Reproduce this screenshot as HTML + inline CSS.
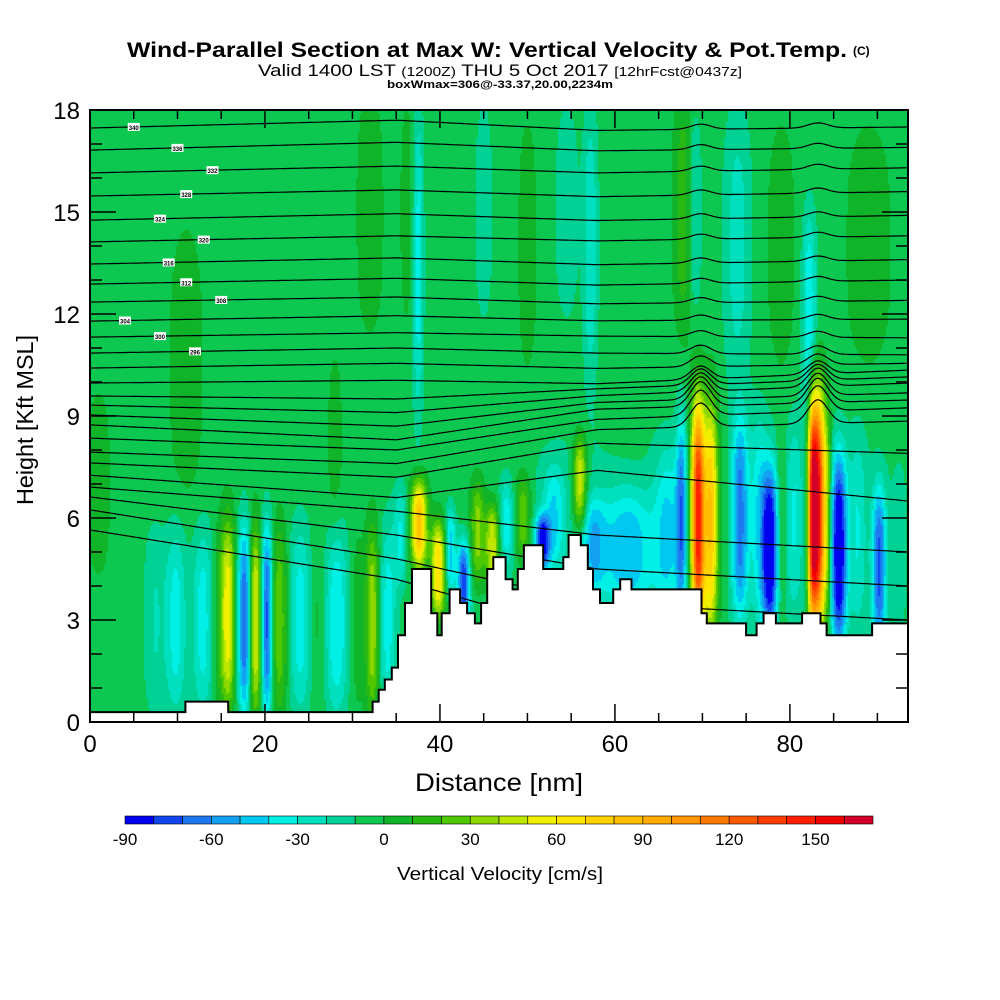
<!DOCTYPE html>
<html><head><meta charset="utf-8"><style>
body{margin:0;background:#fff;width:1000px;height:1000px;position:relative;overflow:hidden;font-family:"Liberation Sans",sans-serif}
#plot{position:absolute;left:90px;top:110px}
svg{position:absolute;left:0;top:0}
</style></head><body>
<canvas id="plot" width="818" height="612"></canvas>
<svg id="svg" width="1000" height="1000"></svg>
<script>
// ---- data ----
const xMax=93.5, yMax=18;
const velBinsStart=-90, velBinStep=10;
const velColors=["#0000f0","#0f46f0","#1e78f0","#14a0f0","#00c8f0","#00f0e6","#00e0be","#00d296","#0cc850","#10b428","#28b814","#50c800","#8cd800","#bee600","#f0f000","#ffe600","#ffd200","#ffbe00","#ffaa00","#ff9600","#ff7800","#ff5a00","#ff3c00","#ff1e00","#f00000","#d20028"];
const colorbarLabels=[-90,-60,-30,0,30,60,90,120,150];
const baseW=-5;
// features: [x nm, sigmaX nm, zCenter kft, zHalf kft, amplitude cm/s]
const featX=[7.4,9.8,12.9,14.8,15.8,17.7,18.9,20.2,21.6,24,26,28.2,30.5,32.3,34,
35.5,37.6,39.8,41.2,42.7,44.3,46,47.6,49.5,51.7,53,56,57.5,61.5,
66,67.6,69.5,71,72.5,74.3,76.5,77.7,79,80.5,82.5,83.2,84.3,85.6,87.8,90.2,92.5,
37.5,36.3,45,50,54.5,57.2,68,69,74,82.2,79,89,11,32,28,1,
55,77];
const featSX=[1.2,1.2,1.2,0.8,0.8,0.8,0.8,0.7,1.0,1.3,0.8,1.3,0.8,0.8,1.0,
0.8,0.9,0.8,0.6,0.7,0.8,0.8,0.8,0.9,0.8,1.2,0.8,1.5,3,
1.5,0.6,0.8,0.8,0.8,0.9,0.9,0.9,0.6,0.8,0.5,0.8,0.5,0.9,0.9,0.8,0.8,
0.6,0.9,0.9,1.2,1.2,0.8,1.2,0.8,1.5,0.8,1.8,3,2.2,1.8,0.9,1.5,
6,12];
const featZ=[3,3,3,3,3.2,3,3,3,3,3,3,3,3,3,3,
5.5,5.8,4.5,5,4,5.6,5.2,5.8,6,5.3,6,7,5.2,5,
5.5,6,6,6,6,6,6,5,6,6,6.2,6.2,6,5,5.5,4.5,5,
13.5,15,15,14,15,14,15,15,14,12,14,14,10.5,15,8,7,
6,6];
const featZH=[2.8,2.8,2.8,2.8,2.8,2.8,2.8,2.8,2.8,2.8,2.8,2.8,2.8,2.8,2.8,
1.5,1.3,1.4,1.3,1.3,1.5,1.2,1.3,1.3,0.8,1.5,1.4,1.4,1.8,
2.5,3,3.4,3.4,3,3,3,2.4,3,2.8,3.4,3.5,3,2.8,3,2.4,2.5,
4.5,3.5,3,4,3,4,3.5,3,4,3,4,4,4.5,4,3,3,
2.8,3.2];
const featA=[-15,-30,-30,15,60,-70,65,-75,35,-30,10,-35,10,45,-30,
-25,90,75,-40,-75,40,55,-30,35,-75,-30,60,-35,-40,
-30,-50,160,90,10,-50,-20,-85,20,-15,100,165,40,-90,-20,-65,-10,
-30,10,-15,10,-15,-25,25,-25,-20,-35,10,10,10,10,10,10,
-8,-12];
// terrain steps: start distance (nm) and height (kft)
const terrX=[0,10.9,15.8,32.3,33.0,33.7,34.5,35.2,36.0,36.8,39.0,39.7,40.2,41.1,42.3,43.1,44.0,44.7,45.4,46.1,47.5,48.3,48.9,49.6,51.8,54.1,54.7,56.1,56.9,57.5,58.3,59.8,60.6,61.9,69.9,70.5,75.0,76.2,77.0,78.4,81.4,83.5,84.2,89.4];
const terrH=[0.29,0.6,0.29,0.6,0.95,1.25,1.6,2.55,3.5,4.5,3.2,2.55,3.2,3.9,3.5,3.2,2.9,3.5,4.5,4.85,4.2,3.9,4.5,5.2,4.5,4.85,5.5,5.2,4.5,3.9,3.5,3.9,4.2,3.9,3.2,2.9,2.55,2.9,3.2,2.9,3.2,2.9,2.55,2.9];
// potential temperature contours: heights (kft) at 0, 35, 58, 93.5 nm
const thetaNodesX=[0,35,58,93.5];
const thetaLeft=[17.47,16.82,16.15,15.47,14.76,14.12,13.47,12.88,12.35,11.79,11.32,10.85,10.41,9.97,9.59,9.32,9.03,8.74,8.35,7.94,7.62,7.26,6.91,6.62,6.24,5.65];
const thetaAt35=[17.7,17.05,16.35,15.65,14.95,14.3,13.65,13.05,12.5,11.95,11.45,11.0,10.55,10.05,9.5,9.1,8.7,8.3,8.0,7.6,7.2,6.6,6.2,5.5,4.8,4.2];
const thetaMid=[17.4,16.8,16.15,15.45,14.75,14.15,13.45,12.85,12.3,11.8,11.35,10.85,10.4,9.95,9.8,9.6,9.4,9.2,8.9,8.6,8.2,7.4,5.5,4.5,3.5,2.5];
const thetaRight=[17.5,16.9,16.3,15.6,14.9,14.3,13.6,13.0,12.4,11.85,11.3,10.8,10.55,10.35,10.15,9.97,9.68,9.47,9.24,8.85,7.9,6.5,5,4,3,2];
const bumpCenters=[69.8,83.2];
const thetaLabels=["340","336","332","328","324","320","316","312","308","304","300","296"];
const xTicks=[0,20,40,60,80], yTicks=[0,3,6,9,12,15,18];

// ---- scales ----
const L=90,T=110,W=818,H=612;
const sx=x=>L+x/xMax*W, sy=z=>T+H-z/yMax*H;
function wAt(x,z){let w=baseW;for(let i=0;i<featX.length;i++){const dx=(x-featX[i])/featSX[i];if(dx*dx>12)continue;const dz=(z-featZ[i])/featZH[i];w+=featA[i]*Math.exp(-dx*dx)*Math.exp(-Math.pow(dz*dz,1.5));}return w;}
function colorFor(w){let b=Math.floor((w-velBinsStart)/velBinStep);b=Math.max(0,Math.min(velColors.length-1,b));return velColors[b];}
const ctx=document.getElementById('plot').getContext('2d');
for(let px=0;px<W;px+=2)for(let py=0;py<H;py+=2){const x=(px+1)/W*xMax,z=(H-py-1)/H*yMax;ctx.fillStyle=colorFor(wAt(x,z));ctx.fillRect(px,py,2,2);}

const NS="http://www.w3.org/2000/svg",svg=document.getElementById('svg');
function mk(t,a,p){const e=document.createElementNS(NS,t);for(const k in a)e.setAttribute(k,a[k]);(p||svg).appendChild(e);return e;}
// theta contours
const gC=mk('g',{});


function interp(xs,ys,x){for(let i=0;i<xs.length-1;i++){if(x<=xs[i+1]){const t=(x-xs[i])/(xs[i+1]-xs[i]);return ys[i]+(ys[i+1]-ys[i])*t;}}return ys[ys.length-1];}
for(let k=0;k<thetaLeft.length;k++){
  const ys=[thetaLeft[k],thetaAt35[k],thetaMid[k],thetaRight[k]];
  const hr=thetaRight[k];const amp=hr>8.5?(0.6*Math.exp(-Math.pow((hr-9.2)/1.2,2))+0.15):0;
  let d="";
  for(let x=0;x<=xMax+0.01;x+=0.25){let h=interp(thetaNodesX,ys,x);for(const c of bumpCenters){const u=(x-c)/1.6;h+=amp*Math.exp(-u*u);}d+=(x?"L":"M")+sx(x).toFixed(1)+","+sy(h).toFixed(1);}
  const p=mk('path',{d:d,fill:'none',stroke:'#000','stroke-width':1.2},gC);
  
  
  if(k<thetaLabels.length){const lx=[5,10,14,11,8,13,9,11,15,4,8,12][k];const ly=sy(interp(thetaNodesX,ys,lx));
    mk('rect',{x:sx(lx)-6,y:ly-4,width:12,height:8,fill:'#fff'},gC);
    const t=mk('text',{x:sx(lx),y:ly+3,'font-size':6,'font-weight':'bold','text-anchor':'middle'},gC);t.textContent=thetaLabels[k];
    
    }
}
// terrain
let td="M"+sx(0)+","+sy(0);
for(let i=0;i<terrX.length;i++){const x1=i+1<terrX.length?terrX[i+1]:xMax;td+="L"+sx(terrX[i]).toFixed(1)+","+sy(terrH[i]).toFixed(1)+"L"+sx(x1).toFixed(1)+","+sy(terrH[i]).toFixed(1);}
td+="L"+sx(xMax)+","+sy(0)+"Z";
const terr=mk('path',{d:td,fill:'#fff',stroke:'#000','stroke-width':2});


mk('rect',{x:L,y:T,width:W,height:H,fill:'none',stroke:'#000','stroke-width':2});
// ticks
const gA=mk('g',{stroke:'#000','stroke-width':1.5});


for(let x=0;x<=xMax;x+=5){const len=x%20===0?18:9;const X=sx(x);mk('line',{x1:X,y1:T+H,x2:X,y2:T+H-len},gA);mk('line',{x1:X,y1:T,x2:X,y2:T+len},gA);}
for(let z=0;z<=yMax;z+=1){const len=z%3===0?26:12;const Y=sy(z);mk('line',{x1:L,y1:Y,x2:L+len,y2:Y},gA);mk('line',{x1:L+W,y1:Y,x2:L+W-len,y2:Y},gA);}
for(const x of xTicks){const t=mk('text',{x:sx(x),y:752,'font-size':24,'text-anchor':'middle'});t.textContent=x;
  
  }
for(const z of yTicks){const t=mk('text',{x:80,y:sy(z)+9,'font-size':24,'text-anchor':'end'});t.textContent=z;
  
  }
// colorbar
const cbL=125,cbW=748/velColors.length;
for(let i=0;i<velColors.length;i++){const r=mk('rect',{x:cbL+i*cbW,y:816,width:cbW,height:8,fill:velColors[i],stroke:'#000','stroke-width':0.6});
  
  }
for(const v of colorbarLabels){const t=mk('text',{x:cbL+(v-velBinsStart)/velBinStep*cbW,y:845,'font-size':17,'text-anchor':'middle'});t.textContent=v;
  
  }
</script>
<svg width="1000" height="1000" style="pointer-events:none">
<text x="127" y="57" font-size="21" font-weight="bold" textLength="720" lengthAdjust="spacingAndGlyphs" font-family="Liberation Sans">Wind-Parallel Section at Max W: Vertical Velocity &amp; Pot.Temp.</text>
<text x="853" y="55" font-size="12" font-weight="bold" font-family="Liberation Sans">(C)</text>
<text x="258" y="76" font-size="17" textLength="484" lengthAdjust="spacingAndGlyphs" font-family="Liberation Sans">Valid 1400 LST <tspan font-size="13">(1200Z)</tspan> THU 5 Oct 2017 <tspan font-size="13">[12hrFcst@0437z]</tspan></text>
<text x="387" y="88" font-size="11" font-weight="bold" textLength="226" lengthAdjust="spacingAndGlyphs" font-family="Liberation Sans">boxWmax=306@-33.37,20.00,2234m</text>
<text x="415" y="791" font-size="25" textLength="168" lengthAdjust="spacingAndGlyphs" font-family="Liberation Sans">Distance [nm]</text>
<text transform="translate(33,505) rotate(-90)" font-size="23" textLength="170" lengthAdjust="spacingAndGlyphs" font-family="Liberation Sans">Height [Kft MSL]</text>
<text x="397" y="880" font-size="18" textLength="206" lengthAdjust="spacingAndGlyphs" font-family="Liberation Sans">Vertical Velocity [cm/s]</text>
</svg>
</body></html>
